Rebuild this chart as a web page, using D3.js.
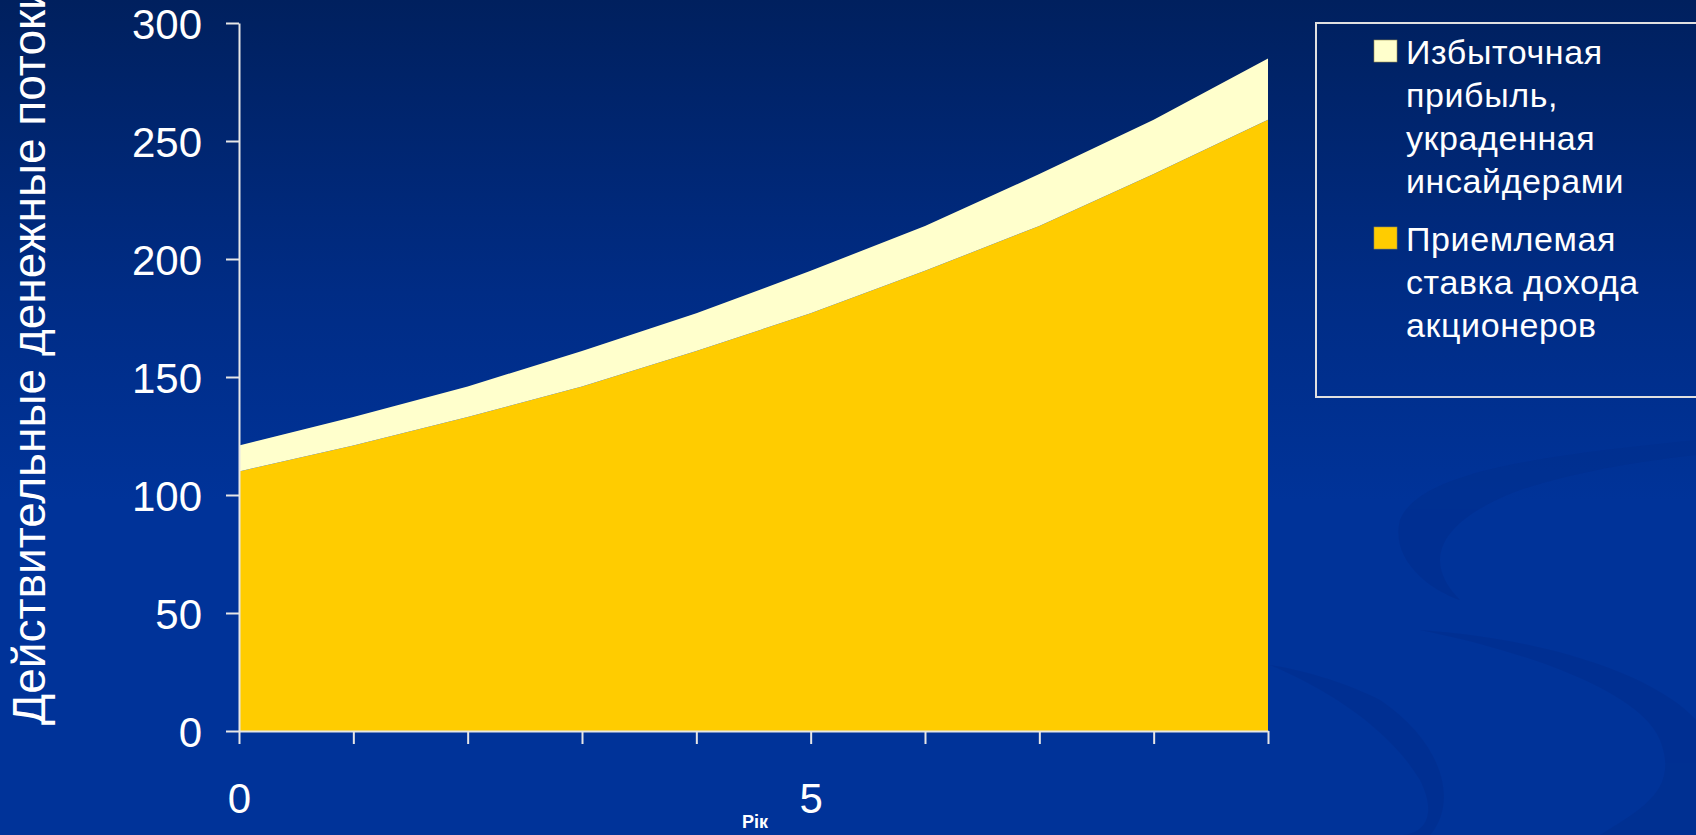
<!DOCTYPE html>
<html>
<head>
<meta charset="utf-8">
<script src="https://cdn.jsdelivr.net/npm/d3@7"></script>
<style>
  html, body { margin: 0; padding: 0; background: #003399; overflow: hidden; }
  svg { display: block; }
  text { font-family: "Liberation Sans", Arial, sans-serif; fill: #ffffff; }
</style>
</head>
<body>
<svg id="chart" width="1696" height="835"></svg>
<script>
// ---- data ----
const years = [0, 1, 2, 3, 4, 5, 6, 7, 8, 9];
const shareholderReturn = [110, 121, 133, 146, 161, 177, 195, 214, 236, 259];
const stolenProfit = [11, 12, 13, 15, 16, 18, 19, 22, 23, 26];
const yTicks = [0, 50, 100, 150, 200, 250, 300];
const xTicks = [0, 1, 2, 3, 4, 5, 6, 7, 8, 9];
const xTickLabels = ["0", "", "", "", "", "5", "", "", "", ""];
const seriesKeys = ["shareholder", "stolen"];
const legendLabels = [
  ["Избыточная", "прибыль,", "украденная", "инсайдерами"],
  ["Приемлемая", "ставка дохода", "акционеров"]
];
const yTitle = "Действительные денежные потоки";
const xTitle = "Рік";

// ---- layout ----
const W = 1696, H = 835;
const plot = { left: 239, right: 1268, top: 23, bottom: 731 };
const colors = { shareholder: "#FFCC00", stolen: "#FFFFCC" };

const svg = d3.select("#chart");
const defs = svg.append("defs");
const grad = defs.append("linearGradient").attr("id", "bg").attr("x1", 0).attr("y1", 0).attr("x2", 0).attr("y2", 1);
grad.append("stop").attr("offset", "0%").attr("stop-color", "#00205e");
grad.append("stop").attr("offset", "35%").attr("stop-color", "#002c85");
grad.append("stop").attr("offset", "60%").attr("stop-color", "#003399");
grad.append("stop").attr("offset", "100%").attr("stop-color", "#003399");
svg.append("rect").attr("width", W).attr("height", H).attr("fill", "url(#bg)");

// subtle decorative swooshes (background)
const deco = svg.append("g").attr("fill", "#002d8c").attr("opacity", 0.5);
deco.append("path").attr("d", "M1696,440 C1550,455 1420,470 1400,520 C1390,560 1430,590 1460,600 C1420,560 1440,520 1520,490 C1580,470 1650,460 1696,455 Z");
deco.append("path").attr("d", "M1270,665 C1330,690 1390,730 1420,780 C1440,820 1420,835 1400,835 L1430,835 C1460,800 1440,740 1380,700 C1340,680 1300,670 1270,665 Z");
deco.append("path").attr("d", "M1420,630 C1520,650 1640,690 1660,740 C1680,790 1640,810 1600,835 L1696,835 L1696,720 C1660,680 1560,640 1420,630 Z");

// ---- scales ----
const x = d3.scaleLinear().domain([0, 9]).range([plot.left, plot.right]);
const y = d3.scaleLinear().domain([0, 300]).range([plot.bottom, plot.top]);

// ---- stacked area ----
const table = years.map((yr, i) => ({ year: yr, shareholder: shareholderReturn[i], stolen: stolenProfit[i] }));
const stacked = d3.stack().keys(seriesKeys)(table);
const area = d3.area()
  .x(d => x(d.data.year))
  .y0(d => y(d[0]))
  .y1(d => y(d[1]))
  .curve(d3.curveLinear);

svg.append("g").selectAll("path")
  .data(stacked)
  .join("path")
  .attr("d", area)
  .attr("fill", d => colors[d.key]);

// ---- axes ----
const axisColor = "#e6e6e6";
const yAxis = svg.append("g")
  .attr("transform", `translate(${plot.left},0)`)
  .call(d3.axisLeft(y).tickValues(yTicks).tickFormat(d3.format("d")).tickSize(13).tickSizeOuter(0).tickPadding(24));
yAxis.selectAll("text").style("font-size", "42px").attr("fill", "#ffffff").attr("dy", "0.36em");

const xAxis = svg.append("g")
  .attr("transform", `translate(0,${plot.bottom})`)
  .call(d3.axisBottom(x).tickValues(xTicks).tickFormat((d, i) => xTickLabels[i]).tickSize(13).tickSizeOuter(0).tickPadding(39));
xAxis.selectAll("text").style("font-size", "42px").attr("fill", "#ffffff");

svg.selectAll(".domain, .tick line").attr("stroke", axisColor).attr("stroke-width", 2);

// ---- axis titles ----
svg.append("text")
  .attr("transform", "translate(45,725) rotate(-90)")
  .attr("text-anchor", "start")
  .style("font-size", "46px")
  .text(yTitle);

svg.append("text")
  .attr("x", 755).attr("y", 828)
  .attr("text-anchor", "middle")
  .style("font-size", "18px")
  .style("font-weight", "bold")
  .text(xTitle);

// ---- legend ----
const legend = svg.append("g");
legend.append("rect")
  .attr("x", 1316).attr("y", 23).attr("width", 420).attr("height", 374)
  .attr("fill", "none").attr("stroke", "#e0e0e0").attr("stroke-width", 2);

const legendKeys = ["stolen", "shareholder"];
const legendTop = [40, 227];
const lineGap = 43.3;
legendKeys.forEach((k, i) => {
  const g = legend.append("g");
  g.append("rect")
    .attr("x", 1374).attr("y", legendTop[i]).attr("width", 23).attr("height", 22)
    .attr("fill", colors[k]).attr("stroke", "#9a8f50").attr("stroke-width", 0.6);
  legendLabels[i].forEach((line, j) => {
    g.append("text")
      .attr("x", 1406)
      .attr("y", legendTop[i] + 23.5 + j * lineGap)
      .style("font-size", "34px")
      .style("letter-spacing", "0.6px")
      .text(line);
  });
});
</script>
</body>
</html>
